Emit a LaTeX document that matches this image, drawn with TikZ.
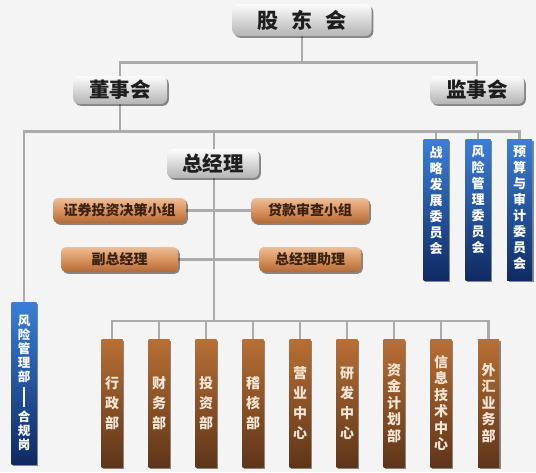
\documentclass[tikz,border=0pt]{standalone}
\usepackage{fontspec}
\newfontfamily\cjk{Noto Sans CJK SC}
\usetikzlibrary{shadows}
\pgfdeclarelayer{bglayer}
\pgfdeclarelayer{linelayer}
\pgfsetlayers{bglayer,linelayer,main}
\definecolor{bgc}{HTML}{F4F4F4}
\definecolor{linec}{HTML}{ABABAB}
\definecolor{grayT}{HTML}{FCFCFC}
\definecolor{grayB}{HTML}{B4B4B4}
\definecolor{grayText}{HTML}{1E1E1E}
\definecolor{orT}{HTML}{EDBE98}
\definecolor{orM}{HTML}{D9935E}
\definecolor{orB}{HTML}{B36A36}
\definecolor{orText}{HTML}{3A2212}
\definecolor{brT}{HTML}{B86F34}
\definecolor{brB}{HTML}{5E3519}
\definecolor{brText}{HTML}{F3E6D6}
\definecolor{blT}{HTML}{3A7ED8}
\definecolor{blB}{HTML}{0F2A62}
\begin{document}
\begin{tikzpicture}[x=1pt,y=-1pt,
  conn/.style={draw=linec, line width=2.2pt},
  shadowed/.style={drop shadow={shadow xshift=1.8pt, shadow yshift=-1.8pt, fill=black, opacity=0.45}},
  graybox/.style={shadowed, rounded corners=6pt, inner sep=0pt, top color=grayT, bottom color=grayB, text=grayText, font=\cjk\bfseries\fontsize{20.5}{24}\selectfont},
  orangebox/.style={shadowed, rounded corners=5pt, inner sep=0pt, top color=orT, bottom color=orB, middle color=orM, text=orText, minimum height=25pt, font=\cjk\bfseries\fontsize{14}{16}\selectfont},
  brownbox/.style={shadowed, inner sep=0pt, minimum width=21pt, minimum height=128pt, top color=brT, bottom color=brB, text=brText, align=center, font=\cjk\bfseries\fontsize{14}{20}\selectfont},
  brownlong/.style={brownbox, font=\cjk\bfseries\fontsize{14}{16.5}\selectfont},
  bluebox/.style={shadowed, inner sep=0pt, minimum width=25pt, top color=blT, bottom color=blB},
  bluetext/.style={text=white, align=center, inner sep=0pt, font=\cjk\bfseries\fontsize{13}{16}\selectfont},
]
\begin{pgfonlayer}{bglayer}
\path[use as bounding box, fill=bgc] (0,0) rectangle (536,472);
\end{pgfonlayer}

% top levels
\node[graybox, minimum width=139pt, minimum height=32pt, font=\cjk\bfseries\fontsize{21}{24}\selectfont] (gd) at (302,20) {股\hspace{13pt}东\hspace{13pt}会};
\node[graybox, minimum width=94pt, minimum height=28pt] (dsh) at (120,90) {董事会};
\node[graybox, minimum width=94pt, minimum height=28pt] (jsh) at (477,90) {监事会};
\node[graybox, minimum width=92pt, minimum height=29pt] (zjl) at (213,163.5) {总经理};

% orange groups
\node[orangebox, minimum width=133pt] (zq) at (119.5,210.5) {证券投资决策小组};
\node[orangebox, minimum width=118pt] (dk) at (310,210.5) {贷款审查小组};
\node[orangebox, minimum width=117pt] (fz) at (119.5,259.5) {副总经理};
\node[orangebox, minimum width=102pt] (zl) at (310,259.5) {总经理助理};

% blue committees
\node[bluebox, minimum height=141pt] (c1) at (436,210) {};
\node[bluebox, minimum height=141pt] (c2) at (478,210) {};
\node[bluebox, minimum height=141pt] (c3) at (519.5,210) {};
\node[bluetext, anchor=north] (c1t) at ([yshift=-6.5pt]c1.north) {战\\略\\发\\展\\委\\员\\会};
\node[bluetext, anchor=north] (c2t) at ([yshift=-6.5pt]c2.north) {风\\险\\管\\理\\委\\员\\会};
\node[bluetext, anchor=north] (c3t) at ([yshift=-6.5pt]c3.north) {预\\算\\与\\审\\计\\委\\员\\会};

% risk management
\node[bluebox, minimum height=162pt] (fx) at (24,383) {};
\node[bluetext, font=\cjk\bfseries\fontsize{12.5}{14}\selectfont] (fxt) at (fx.center) {风\\险\\管\\理\\部\\[3pt]\rule{1.2pt}{20pt}\\合\\规\\岗};

% departments
\node[brownbox] (b1) at (112,403) {行\\政\\部};
\node[brownbox] (b2) at (159,403) {财\\务\\部};
\node[brownbox] (b3) at (206,403) {投\\资\\部};
\node[brownbox] (b4) at (253,403) {稽\\核\\部};
\node[brownbox] (b5) at (300,403) {营\\业\\中\\心};
\node[brownbox] (b6) at (347,403) {研\\发\\中\\心};
\node[brownlong] (b7) at (394,403) {资\\金\\计\\划\\部};
\node[brownlong] (b8) at (441,403) {信\\息\\技\\术\\中\\心};
\node[brownlong] (b9) at (488.5,403) {外\\汇\\业\\务\\部};

% junction coordinates
\coordinate (h1) at (0,62.5);
\coordinate (h2) at (0,131.5);
\coordinate (h3) at (0,321);
\coordinate (tr) at (214,0);

\begin{pgfonlayer}{linelayer}
\draw[conn] (gd.south) -- (gd.south |- h1);
\draw[conn] (dsh.north) -- (dsh.north |- h1) -- (jsh.north |- h1) -- (jsh.north);
\draw[conn] (dsh.south) -- (dsh.south |- h2);
\draw[conn] (fx.north) -- (fx.north |- h2) -- (c3.north |- h2) -- (c3.north);
\draw[conn] (c1.north |- h2) -- (c1.north);
\draw[conn] (c2.north |- h2) -- (c2.north);
\draw[conn] (tr |- h2) -- (tr |- h3);
\draw[conn] (zq.east) -- (dk.west);
\draw[conn] (fz.east) -- (zl.west);
\draw[conn] (b1.north) -- (b1.north |- h3) -- (b9.north |- h3) -- (b9.north);
\foreach \b in {b2,b3,b4,b5,b6,b7,b8} {
  \draw[conn] (\b.north |- h3) -- (\b.north);
}
\end{pgfonlayer}
\end{tikzpicture}
\end{document}
